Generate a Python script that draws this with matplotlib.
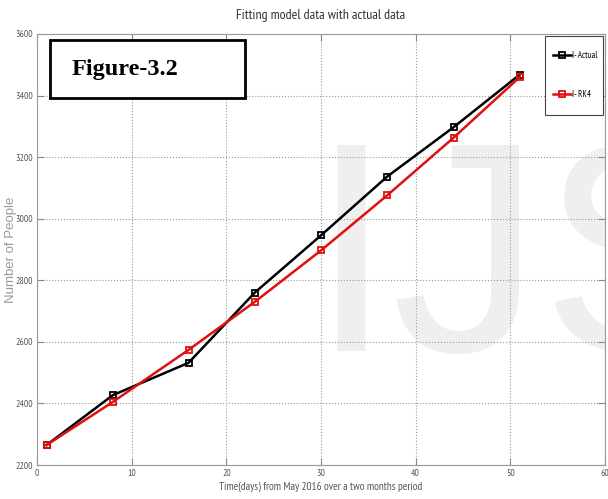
import matplotlib
matplotlib.use("Agg")
import matplotlib.pyplot as plt
from matplotlib import font_manager as fm
from matplotlib.patches import Rectangle

days = [1, 8, 16, 23, 30, 37, 44, 51]
actual = [2265, 2427, 2532, 2760, 2946, 3137, 3297, 3468]
rk4 = [2265, 2405, 2574, 2730, 2897, 3076, 3263, 3460]
xticks = [0, 10, 20, 30, 40, 50, 60]
yticks = [2200, 2400, 2600, 2800, 3000, 3200, 3400, 3600]

_avail = {f.name for f in fm.fontManager.ttflist}
narrow = [n for n in ['PT Sans Narrow', 'Roboto Condensed', 'Open Sans Condensed'] if n in _avail] + ['DejaVu Sans']
serif = [n for n in ['Liberation Serif'] if n in _avail] + ['DejaVu Serif']
sans = [n for n in ['Liberation Sans'] if n in _avail] + ['DejaVu Sans']

fig = plt.figure(figsize=(6.08, 4.99), dpi=100)
ax = fig.add_axes([0.061, 0.068, 0.934, 0.864])

# watermark
ax.text(0.48, 0.265, "IJS", transform=ax.transAxes, fontsize=215, color='#efefef',
        family=sans, ha='left', va='baseline', zorder=0, clip_on=True)

ax.plot(days, actual, color='black', lw=1.8, marker='s', ms=5, mfc='none', mew=1.3,
        label='I- Actual', zorder=3)
ax.plot(days, rk4, color='#e01010', lw=1.8, marker='s', ms=5, mfc='none', mew=1.3,
        label='I- RK4', zorder=3)

ax.set_xlim(0, 60)
ax.set_ylim(2200, 3600)
ax.set_xticks(xticks)
ax.set_yticks(yticks)
ax.grid(True, linestyle=':', color='#999999', lw=0.8)
ax.tick_params(direction='in', length=5, width=0.8, colors='#888888', labelcolor='#555555',
               labelsize=7, top=True, right=True, pad=3)
for lab in ax.get_xticklabels() + ax.get_yticklabels():
    lab.set_family(narrow)
for s in ax.spines.values():
    s.set_color('#999999')

ax.set_title("Fitting model data with actual data", fontsize=10, family=narrow,
             color='#333333', pad=11)
ax.set_xlabel("Time(days) from May 2016 over a two months period", fontsize=8,
              family=narrow, color='#555555', labelpad=2)
ax.set_ylabel("Number of People", fontsize=9.5, family=sans, color='#999999')
ax.yaxis.set_label_coords(-0.036, 0.5)

# legend with a tall frame like the reference
fig.patches.append(Rectangle((545/608, 1-115/499), 58/608, 79/499, transform=fig.transFigure,
                             fc='white', ec='#444444', lw=0.8, zorder=4))
handles, labels = ax.get_legend_handles_labels()
leg = fig.legend(handles, labels, loc='center', prop={'family': narrow, 'size': 6.5},
                 handlelength=2.0, labelspacing=3.3, borderpad=0.2, handletextpad=0.15,
                 frameon=False, bbox_to_anchor=(575/608, 1-75/499),
                 bbox_transform=fig.transFigure)
leg.set_zorder(5)

# Figure label box
fig.patches.append(Rectangle((50/608, 1-98/499), 195/608, 58/499, transform=fig.transFigure,
                             fc='white', ec='black', lw=2, zorder=5))
fig.text(72/608, 1-69/499, "Figure-3.2", fontsize=17.5, fontweight='bold',
         family=serif, ha='left', va='center', zorder=6)

fig.savefig("out.png", dpi=100)
